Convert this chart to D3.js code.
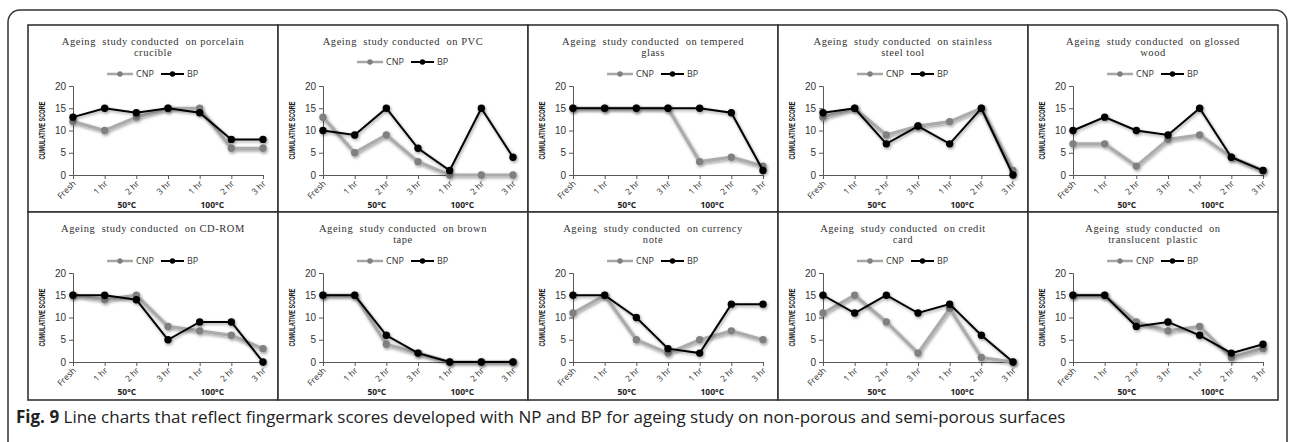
<!DOCTYPE html>
<html>
<head>
<meta charset="utf-8">
<script src="https://cdn.jsdelivr.net/npm/d3@7"></script>
<style>
  html, body { margin: 0; padding: 0; background: #fff; }
  svg { display: block; }
</style>
</head>
<body>
<div id="chart"></div>
<script>
// categories along the x axis (time of ageing)
const categories = ["Fresh", "1 hr", "2 hr", "3 hr", "1 hr", "2 hr", "3 hr"];
const groupLabels = ["50°C", "100°C"];
const yTicks = [0, 5, 10, 15, 20];

// panel titles (one entry per line)
const titles = [
    ["Ageing  study conducted  on porcelain", "crucible"],
    ["Ageing  study conducted  on PVC"],
    ["Ageing  study conducted  on tempered", "glass"],
    ["Ageing  study conducted  on stainless", "steel tool"],
    ["Ageing  study conducted  on glossed", "wood"],
    ["Ageing  study conducted  on CD-ROM"],
    ["Ageing  study conducted  on brown", "tape"],
    ["Ageing  study conducted  on currency", "note"],
    ["Ageing  study conducted  on credit", "card"],
    ["Ageing  study conducted  on", "translucent  plastic"]
];

// cumulative scores
const cnpScores = [
    [12, 10, 13, 15, 15, 6, 6],
    [13, 5, 9, 3, 0, 0, 0],
    [15, 15, 15, 15, 3, 4, 2],
    [13, 15, 9, 11, 12, 15, 1],
    [7, 7, 2, 8, 9, 4, 1],
    [15, 14, 15, 8, 7, 6, 3],
    [15, 15, 4, 2, 0, 0, 0],
    [11, 15, 5, 2, 5, 7, 5],
    [11, 15, 9, 2, 12, 1, 0],
    [15, 15, 9, 7, 8, 1, 3]
];
const bpScores = [
    [13, 15, 14, 15, 14, 8, 8],
    [10, 9, 15, 6, 1, 15, 4],
    [15, 15, 15, 15, 15, 14, 1],
    [14, 15, 7, 11, 7, 15, 0],
    [10, 13, 10, 9, 15, 4, 1],
    [15, 15, 14, 5, 9, 9, 0],
    [15, 15, 6, 2, 0, 0, 0],
    [15, 15, 10, 3, 2, 13, 13],
    [15, 11, 15, 11, 13, 6, 0],
    [15, 15, 8, 9, 6, 2, 4]
];

const W = 1292, H = 442;
const gridLeft = 28, panelW = 250;
const rowTops = [25, 212], rowBottom = 400;

const svg = d3.select("#chart").append("svg")
    .attr("width", W).attr("height", H);

// ombre type Excel
const defs = svg.append("defs");
const f = defs.append("filter").attr("id", "shadow")
    .attr("x", "-20%").attr("y", "-20%").attr("width", "140%").attr("height", "140%");
f.append("feDropShadow").attr("dx", 1).attr("dy", 1.5)
    .attr("stdDeviation", 1.4).attr("flood-color", "#000").attr("flood-opacity", 0.4);

// outer rounded frame
svg.append("rect")
    .attr("x", 8).attr("y", 10).attr("width", 1279).attr("height", 460)
    .attr("rx", 12).attr("fill", "none").attr("stroke", "#333").attr("stroke-width", 1.5);

titles.forEach((lines, i) => {
    const col = i % 5, row = Math.floor(i / 5);
    const L = gridLeft + col * panelW;
    const T = rowTops[row];
    const B = row === 0 ? rowTops[1] : rowBottom;
    const g = svg.append("g");

    // panel border
    g.append("rect")
        .attr("x", L).attr("y", T).attr("width", panelW).attr("height", B - T)
        .attr("fill", "#fff").attr("stroke", "#333").attr("stroke-width", 1.6);

    const cx = L + panelW / 2;

    // title
    lines.forEach((t, k) => {
        g.append("text")
            .attr("x", cx).attr("y", T + 20 + k * 11)
            .attr("text-anchor", "middle")
            .style("font-family", "'Liberation Serif', serif")
            .style("font-size", "10.5px")
            .style("letter-spacing", "0.55px")
            .style("white-space", "pre")
            .attr("fill", "#333")
            .text(t);
    });

    // legend
    const ly = T + (i === 1 ? 37 : 49);
    const leg = g.append("g").attr("transform", `translate(${cx},${ly})`);
    leg.append("line").attr("x1", -46).attr("x2", -20).attr("y1", 0).attr("y2", 0)
        .attr("stroke", "#a6a6a6").attr("stroke-width", 2.5);
    leg.append("circle").attr("cx", -33).attr("r", 2.7).attr("fill", "#7f7f7f");
    leg.append("text").attr("x", -17).attr("y", 3)
        .style("font-family", "'Open Sans', sans-serif").style("font-size", "9px")
        .attr("fill", "#333").text("CNP");
    leg.append("line").attr("x1", 8).attr("x2", 31).attr("y1", 0).attr("y2", 0)
        .attr("stroke", "#000").attr("stroke-width", 2);
    leg.append("circle").attr("cx", 19.5).attr("r", 2.7).attr("fill", "#000");
    leg.append("text").attr("x", 34).attr("y", 3)
        .style("font-family", "'Open Sans', sans-serif").style("font-size", "9px")
        .attr("fill", "#333").text("BP");

    // scales
    const x = d3.scalePoint().domain(d3.range(categories.length)).range([L + 45, L + 235]);
    const y = d3.scaleLinear().domain([0, 20]).range([T + 150, T + 61]);

    // y axis
    const ya = g.append("g").attr("transform", `translate(${L + 45},0)`)
        .call(d3.axisLeft(y).tickValues(yTicks).tickSize(4).tickPadding(3));
    ya.select(".domain").attr("stroke", "#595959");
    ya.selectAll(".tick line").attr("stroke", "#595959");
    ya.selectAll(".tick text")
        .style("font-family", "'Liberation Sans', sans-serif").style("font-size", "10px")
        .attr("fill", "#333");

    // x axis
    const xa = g.append("g").attr("transform", `translate(0,${T + 150})`)
        .call(d3.axisBottom(x).tickSize(4).tickSizeOuter(0).tickFormat(d => categories[d]));
    xa.select(".domain").attr("stroke", "#595959");
    xa.selectAll(".tick line").attr("stroke", "#595959");
    xa.selectAll(".tick text")
        .attr("text-anchor", "end")
        .attr("dy", null).attr("y", 0)
        .attr("transform", "translate(3,9) rotate(-45)")
        .style("font-family", "'Open Sans', sans-serif").style("font-size", "8.5px")
        .attr("fill", "#333");

    // temperature groups
    [1.7, 4.4].forEach((p, k) => {
        const step = x(1) - x(0);
        g.append("text")
            .attr("x", x(0) + p * step).attr("y", T + 183)
            .attr("text-anchor", "middle")
            .style("font-family", "'Open Sans', sans-serif").style("font-size", "8.5px")
            .style("font-weight", "bold").attr("fill", "#222")
            .text(groupLabels[k]);
    });

    // y label
    g.append("text")
        .attr("transform", `translate(${L + 16.5},${(y(0) + y(20)) / 2}) rotate(-90)`)
        .attr("text-anchor", "middle")
        .attr("textLength", 58).attr("lengthAdjust", "spacingAndGlyphs")
        .style("font-family", "'Liberation Sans', sans-serif").style("font-size", "8.5px")
        .style("font-weight", "bold").attr("fill", "#1a1a1a")
        .text("CUMULATIVE SCORE");

    const line = d3.line().x((d, k) => x(k)).y(d => y(d));

    // CNP series
    const s1 = g.append("g").attr("filter", "url(#shadow)");
    s1.append("path").datum(cnpScores[i]).attr("d", line)
        .attr("fill", "none").attr("stroke", "#ababab").attr("stroke-width", 3.2);
    s1.selectAll("circle").data(cnpScores[i]).enter().append("circle")
        .attr("cx", (d, k) => x(k)).attr("cy", d => y(d)).attr("r", 3.7)
        .attr("fill", "#808080");

    // BP series
    const s2 = g.append("g").attr("filter", "url(#shadow)");
    s2.append("path").datum(bpScores[i]).attr("d", line)
        .attr("fill", "none").attr("stroke", "#000").attr("stroke-width", 2);
    s2.selectAll("circle").data(bpScores[i]).enter().append("circle")
        .attr("cx", (d, k) => x(k)).attr("cy", d => y(d)).attr("r", 3.7)
        .attr("fill", "#000");
});

// caption
const cap = svg.append("text")
    .attr("x", 16).attr("y", 423)
    .style("font-family", "'Open Sans', sans-serif").style("font-size", "14px")
    .attr("fill", "#222");
cap.append("tspan").style("font-weight", "bold").text("Fig. 9");
cap.append("tspan").text(" Line charts that reflect fingermark scores developed with NP and BP for ageing study on non-porous and semi-porous surfaces");
// ajuste la largeur de la légende
const capW = cap.node().getComputedTextLength();
const target = 1050;
cap.style("font-size", (14 * target / capW).toFixed(2) + "px");
</script>
</body>
</html>
